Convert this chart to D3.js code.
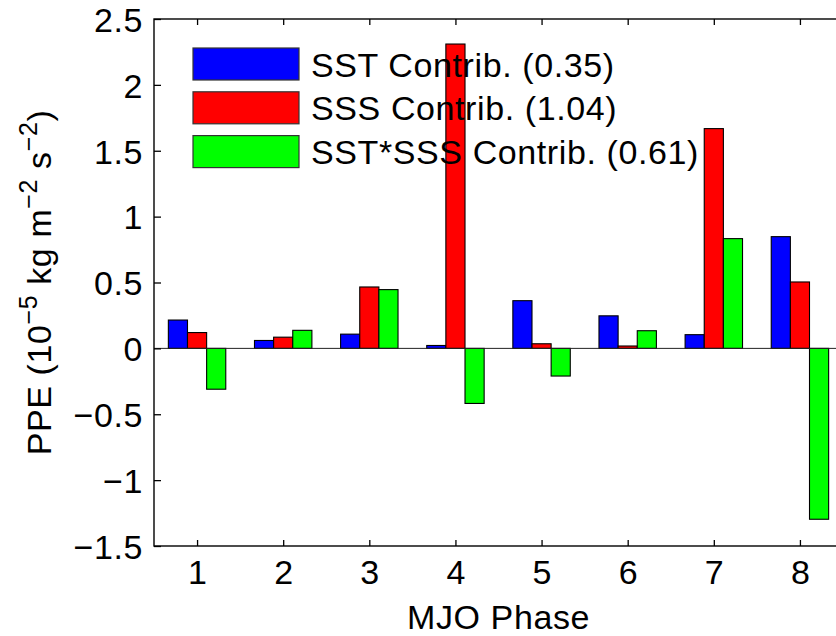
<!DOCTYPE html>
<html>
<head>
<meta charset="utf-8">
<script src="https://cdn.jsdelivr.net/npm/d3@7"></script>
<style>
  body { margin: 0; background: #fff; }
  svg { display: block; font-family: "Liberation Sans", Arial, sans-serif; }
</style>
</head>
<body>
<svg id="chart" width="836" height="636"></svg>
<script>
// ***** Data *****
const phases = [1, 2, 3, 4, 5, 6, 7, 8];
const sstContrib = [0.215, 0.06, 0.108, 0.022, 0.362, 0.247, 0.104, 0.848];
const sssContrib = [0.12, 0.085, 0.466, 2.31, 0.035, 0.018, 1.668, 0.504];
const crossContrib = [-0.31, 0.137, 0.446, -0.418, -0.21, 0.134, 0.833, -1.297];
const seriesNames = ["SST Contrib. (0.35)", "SSS Contrib. (1.04)", "SST*SSS Contrib. (0.61)"];
const seriesColors = ["#0000ff", "#ff0000", "#00ff00"];
const yTicks = [-1.5, -1, -0.5, 0, 0.5, 1, 1.5, 2, 2.5];

const series = [sstContrib, sssContrib, crossContrib];

// ***** Layout *****
const margin = { left: 154, top: 19, right: -7, bottom: 90 };
const width = 836 - margin.left - margin.right;
const height = 636 - margin.top - margin.bottom;

const svg = d3.select("#chart");
const g = svg.append("g").attr("transform", "translate(" + margin.left + "," + margin.top + ")");

const xScale = d3.scaleLinear().domain([0.5, 8.5]).range([0, width]);
const yScale = d3.scaleLinear().domain([-1.5, 2.5]).range([height, 0]);

// grouped bars, MATLAB style: group width 2/3 of a phase
const groupWidth = 3 / 4.5;
const barW = groupWidth / 3;

series.forEach(function(vals, si) {
  g.selectAll(".bar" + si)
    .data(vals)
    .enter()
    .append("rect")
    .attr("class", "bar" + si)
    .attr("x", function(d, i) { return xScale(phases[i] - groupWidth / 2 + si * barW); })
    .attr("width", xScale(barW) - xScale(0))
    .attr("y", function(d) { return yScale(Math.max(0, d)); })
    .attr("height", function(d) { return Math.abs(yScale(d) - yScale(0)); })
    .style("fill", seriesColors[si])
    .style("stroke", "#000")
    .style("stroke-width", 1.1);
});

// zero baseline
g.append("line")
  .attr("x1", 0).attr("x2", width)
  .attr("y1", yScale(0)).attr("y2", yScale(0))
  .style("stroke", "#222").style("stroke-width", 1);

// ***** Axes *****
const axisFont = "34px";
const spacing = "0.6px";

const yAxis = g.append("g")
  .call(d3.axisLeft(yScale).tickValues(yTicks).tickSizeInner(-7).tickSizeOuter(0)
    .tickPadding(11)
    .tickFormat(function(d) { return d < 0 ? "\u2212" + Math.abs(d) : String(d); }));
yAxis.selectAll("text").style("font-size", axisFont).style("letter-spacing", spacing)
  .attr("dy", "0.36em").style("fill", "#000");

const xAxis = g.append("g")
  .attr("transform", "translate(0," + height + ")")
  .call(d3.axisBottom(xScale).tickValues(phases).tickSizeInner(-6).tickSizeOuter(0)
    .tickPadding(14)
    .tickFormat(d3.format("d")));
xAxis.selectAll("text").style("font-size", axisFont).attr("dy", "0.71em").style("fill", "#000");

// top ticks (box on)
g.append("g")
  .call(d3.axisTop(xScale).tickValues(phases).tickSizeInner(-6).tickSizeOuter(0).tickFormat(""));

g.selectAll(".tick line").style("stroke", "#000").style("stroke-width", 1.3);
g.selectAll(".domain").remove();

// box
g.append("rect")
  .attr("x", 0).attr("y", 0)
  .attr("width", width).attr("height", height)
  .style("fill", "none").style("stroke", "#000").style("stroke-width", 1.4);

// ***** Labels *****
svg.append("text")
  .attr("x", margin.left + xScale(4.5) - 0)
  .attr("y", 629)
  .attr("text-anchor", "middle")
  .style("font-size", axisFont)
  .style("letter-spacing", spacing)
  .text("MJO Phase");

const yLab = svg.append("text")
  .attr("transform", "translate(51," + (margin.top + height / 2) + ") rotate(-90)")
  .attr("text-anchor", "middle")
  .style("font-size", axisFont)
  .style("letter-spacing", spacing);
yLab.append("tspan").text("PPE (10");
yLab.append("tspan").attr("dy", -14).style("font-size", "25px").text("\u22125");
yLab.append("tspan").attr("dy", 14).text(" kg m");
yLab.append("tspan").attr("dy", -14).style("font-size", "25px").text("\u22122");
yLab.append("tspan").attr("dy", 14).text(" s");
yLab.append("tspan").attr("dy", -14).style("font-size", "25px").text("\u22122");
yLab.append("tspan").attr("dy", 14).text(")");

// ***** Legend *****
const legend = svg.append("g").attr("transform", "translate(193,48)");
const legendRows = legend.selectAll(".legRow")
  .data(seriesNames)
  .enter()
  .append("g")
  .attr("class", "legRow")
  .attr("transform", function(d, i) { return "translate(0," + i * 43.8 + ")"; });

legendRows.append("rect")
  .attr("width", 106).attr("height", 32)
  .style("fill", function(d, i) { return seriesColors[i]; })
  .style("stroke", "#333").style("stroke-width", 1.2);

legendRows.append("text")
  .attr("x", 118).attr("y", 28.5)
  .style("font-size", axisFont)
  .style("letter-spacing", spacing)
  .text(function(d) { return d; });
</script>
</body>
</html>
